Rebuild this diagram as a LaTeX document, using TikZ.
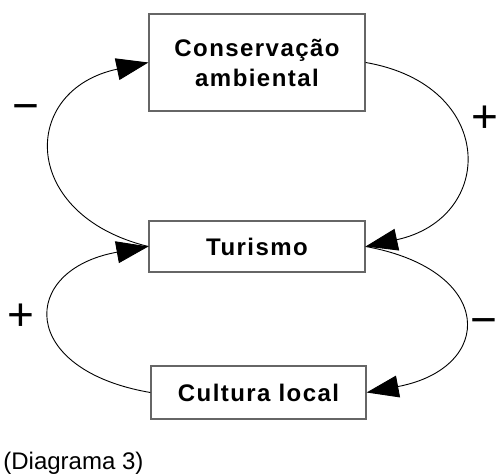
\documentclass[tikz,border=0pt]{standalone}
\usepackage{fontspec}
\setmainfont{Liberation Sans}
\usetikzlibrary{arrows.meta}

\begin{document}
\begin{tikzpicture}[
        x=0.5pt, y=-0.5pt,
        font=\fontsize{12}{15}\selectfont,
        box/.style={draw=black!60, line width=0.6pt, inner sep=0pt, align=center,
            font=\fontsize{12}{15}\selectfont\bfseries\addfontfeature{LetterSpace=6}},
        loop/.style={draw, line width=0.45pt},
        sign/.style={font=\fontsize{23}{23}\selectfont, inner sep=0pt},
        >={Triangle[length=16pt,width=11pt]} % Pfeilspitzen
        ]
    \useasboundingbox (0,0) rectangle (497,475);

    % Kaesten
    \node (cons) [box, minimum width=108pt, minimum height=48.5pt] at (257,62.5) {Conservação\\ambiental};
    \node (tur)  [box, minimum width=108pt, minimum height=25.5pt] at (257,246.5) {Turismo};
    \node (cult) [box, minimum width=107.5pt, minimum height=26.5pt] at (258.5,392.5) {Cultura local};

    % Schleifen
    \draw [loop, ->] (tur.west)  .. controls +(-129,-31.5) and +(-129,27.5) .. (cons.west);
    \draw [loop, ->] (cons.east) .. controls +(131,22.5) and +(131,-28.5) .. (tur.east);
    \draw [loop, ->] (cult.west) .. controls +(-132,-22.5) and +(-130,23.5) .. (tur.west);
    \draw [loop, ->] (tur.east)  .. controls +(130,23.5) and +(129,-24.5) .. (cult.east);

    % Vorzeichen
    \node (m1) [sign] at (26,113) {−};
    \node (p1) [sign] at (485,119) {+};
    \node (p2) [sign] at (21,317) {+};
    \node (m2) [sign] at (484,327) {−};

    % Legende
    \node (cap) [anchor=base west, inner sep=0pt] at (3,469) {(Diagrama 3)};
\end{tikzpicture}
\end{document}
